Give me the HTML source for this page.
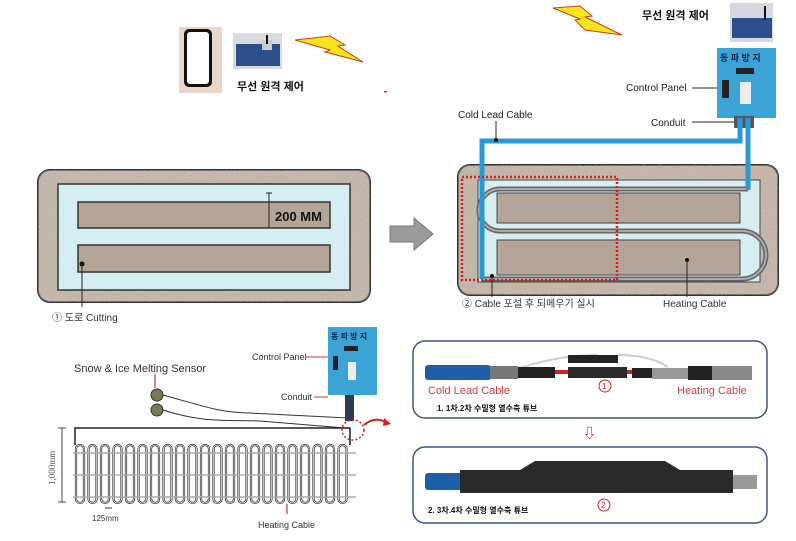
<!DOCTYPE html>
<html><head><meta charset="utf-8"><style>
html,body{margin:0;padding:0;background:#fff;}
svg{display:block;font-family:"Liberation Sans","Noto Sans CJK KR",sans-serif;}
</style></head><body>
<svg width="796" height="541" viewBox="0 0 796 541" xmlns="http://www.w3.org/2000/svg">
<defs>
<filter id="sand" x="0" y="0" width="100%" height="100%">
<feTurbulence type="fractalNoise" baseFrequency="0.9" numOctaves="2" seed="3" result="n"/>
<feColorMatrix in="n" type="matrix" values="0 0 0 0 0.70  0 0 0 0 0.64  0 0 0 0 0.58  0 0 0 -1.2 1.25" result="c"/>
<feComposite in="c" in2="SourceGraphic" operator="in"/>
</filter>
<g id="lp"><rect x="0" y="0" width="8" height="58" rx="4" fill="none" stroke="#333" stroke-width="2.2"/><rect x="0" y="0" width="8" height="58" rx="4" fill="none" stroke="#fff" stroke-width="0.7"/></g>
</defs>

<!-- top-left -->
<rect x="179" y="27" width="43" height="66" fill="#e8d6c8"/>
<rect x="184" y="29" width="28" height="58" rx="5" fill="#111"/>
<rect x="187" y="32" width="22" height="52" rx="3" fill="#fff"/>
<rect x="233" y="33" width="49" height="36" fill="#d8dce2"/>
<rect x="236" y="44" width="44" height="22" fill="#2d4f8c"/>
<rect x="262" y="40" width="10" height="10" fill="#ccc"/>
<line x1="267" y1="35" x2="267" y2="44" stroke="#111" stroke-width="2"/>
<polygon points="295,40 330,36 345,45 338,46 363,62 325,52 330,50" fill="#f5e61a" stroke="#d23a1a" stroke-width="1"/>
<text x="237" y="90" font-size="11" font-weight="bold" fill="#111">무선 원격 제어</text>
<rect x="384" y="91" width="3" height="1.5" fill="#c33"/>

<!-- top-right -->
<polygon points="553,8 580,6 592,16 585,17 622,35 585,30 575,20 580,19" fill="#f5e61a" stroke="#d23a1a" stroke-width="1"/>
<text x="642" y="19" font-size="11" font-weight="bold" fill="#111">무선 원격 제어</text>
<rect x="730" y="3" width="43" height="39" fill="#d5d8de"/>
<rect x="732" y="18" width="40" height="20" fill="#2d4f8c"/>
<line x1="765" y1="6" x2="765" y2="20" stroke="#111" stroke-width="2"/>

<rect x="717" y="48" width="59" height="70" fill="#3ba3d6"/>
<text x="720" y="61" font-size="9" font-weight="bold" fill="#124">동 파 방 지</text>
<rect x="736" y="68" width="18" height="6" fill="#222"/>
<rect x="722" y="80" width="7" height="18" fill="#222"/>
<rect x="740" y="82" width="11" height="22" fill="#eee"/>
<text x="626" y="91" font-size="10" fill="#222">Control Panel</text>
<line x1="692" y1="88" x2="717" y2="88" stroke="#222" stroke-width="1"/>
<text x="651" y="126" font-size="10" fill="#222">Conduit</text>
<line x1="692" y1="122" x2="735" y2="122" stroke="#222" stroke-width="1"/>
<rect x="734" y="116" width="20" height="12" fill="#556"/>
<text x="458" y="118" font-size="10" fill="#222">Cold Lead Cable</text>
<line x1="496" y1="121" x2="496" y2="140" stroke="#222" stroke-width="1"/>

<!-- right slab -->
<rect x="458" y="165" width="320" height="130" rx="12" fill="#b5a596" stroke="#333" stroke-width="2"/>
<rect x="458" y="165" width="320" height="130" rx="12" fill="#fff" filter="url(#sand)" opacity="0.6"/>
<rect x="478" y="180" width="282" height="102" fill="#d6eef0" stroke="#444" stroke-width="1"/>
<rect x="497" y="193" width="243" height="30" fill="#b5a596" stroke="#444" stroke-width="1"/>
<rect x="497" y="240" width="243" height="35" fill="#b5a596" stroke="#444" stroke-width="1"/>
<path d="M482 279 H742 A24 24 0 0 0 742 231 H500 A21 21 0 0 1 500 189 H748" fill="none" stroke="#666" stroke-width="5"/>
<path d="M482 279 H742 A24 24 0 0 0 742 231 H500 A21 21 0 0 1 500 189 H748" fill="none" stroke="#aaa" stroke-width="2"/>
<path d="M740 118 V141 H482 V279" fill="none" stroke="#2a9ad6" stroke-width="5"/>
<path d="M748 118 V190" fill="none" stroke="#2a9ad6" stroke-width="5"/>
<circle cx="496" cy="140" r="2" fill="#111"/>
<rect x="462" y="177" width="155" height="103" fill="none" stroke="#d52020" stroke-width="2.5" stroke-dasharray="2,2"/>
<circle cx="492" cy="276" r="2" fill="#111"/>
<line x1="492" y1="276" x2="492" y2="297" stroke="#222"/>
<circle cx="687" cy="260" r="2" fill="#111"/>
<line x1="687" y1="260" x2="687" y2="297" stroke="#222"/>
<text x="462" y="307" font-size="10" fill="#333">② Cable 포설 후 되메우기 실시</text>
<text x="663" y="307" font-size="10" fill="#333">Heating Cable</text>

<!-- left slab -->
<rect x="38" y="170" width="332" height="132" rx="12" fill="#b5a596" stroke="#333" stroke-width="2"/>
<rect x="38" y="170" width="332" height="132" rx="12" fill="#fff" filter="url(#sand)" opacity="0.6"/>
<rect x="58" y="184" width="292" height="106" fill="#d4eff3" stroke="#333" stroke-width="1.5"/>
<rect x="78" y="202" width="252" height="26" fill="#b5a596" stroke="#333" stroke-width="1.5"/>
<rect x="78" y="245" width="252" height="27" fill="#b5a596" stroke="#333" stroke-width="1.5"/>
<line x1="269" y1="193" x2="269" y2="228" stroke="#222"/>
<line x1="266" y1="193" x2="272" y2="193" stroke="#222"/>
<text x="275" y="221" font-size="13" font-weight="bold" fill="#111">200 MM</text>
<circle cx="82" cy="264" r="2.5" fill="#111"/>
<line x1="82" y1="264" x2="82" y2="307" stroke="#222"/>
<text x="52" y="321" font-size="10" fill="#333">① 도로 Cutting</text>

<polygon points="390,226 414,226 414,218 433,234 414,250 414,242 390,242" fill="#9a9a9a" stroke="#777"/>

<!-- bottom-left -->
<text x="74" y="372" font-size="11" fill="#333">Snow &amp; Ice Melting Sensor</text>
<line x1="155" y1="374" x2="155" y2="388" stroke="#c33" stroke-width="1.2"/>
<circle cx="157" cy="395" r="6" fill="#7a7a50" stroke="#333"/>
<circle cx="157" cy="410" r="6" fill="#7a7a50" stroke="#333"/>
<path d="M163 395 C200 405 220 413 250 413 L348 418" fill="none" stroke="#333"/>
<path d="M163 410 C200 422 220 420 260 421 L345 428" fill="none" stroke="#333"/>
<rect x="328" y="327" width="49" height="68" fill="#3ba3d6"/>
<text x="331" y="339" font-size="8" font-weight="bold" fill="#124">동 파 방 지</text>
<rect x="344" y="346" width="14" height="5" fill="#222"/>
<rect x="333" y="356" width="5" height="14" fill="#222"/>
<rect x="348" y="362" width="8" height="18" fill="#eee"/>
<text x="252" y="360" font-size="9" fill="#333">Control Panel</text>
<line x1="306" y1="357" x2="328" y2="357" stroke="#c33"/>
<text x="281" y="400" font-size="9" fill="#333">Conduit</text>
<line x1="314" y1="397" x2="328" y2="397" stroke="#c33"/>
<rect x="345" y="395" width="9" height="26" fill="#2b3d50"/>
<path d="M75 445 V428 H350 V445" fill="none" stroke="#222" stroke-width="1.5"/>
<ellipse cx="353" cy="430" rx="11" ry="10" fill="none" stroke="#d52020" stroke-width="1.5" stroke-dasharray="2,2"/>
<path d="M364 425 Q375 416 385 422" fill="none" stroke="#d52020" stroke-width="2"/>
<polygon points="384,418 391,424 383,426" fill="#d52020"/>
<g transform="translate(0,445)">
<use href="#lp" x="76"/><use href="#lp" x="88.5"/><use href="#lp" x="101"/><use href="#lp" x="113.5"/><use href="#lp" x="126"/><use href="#lp" x="138.5"/><use href="#lp" x="151"/><use href="#lp" x="163.5"/><use href="#lp" x="176"/><use href="#lp" x="188.5"/><use href="#lp" x="201"/><use href="#lp" x="213.5"/><use href="#lp" x="226"/><use href="#lp" x="238.5"/><use href="#lp" x="251"/><use href="#lp" x="263.5"/><use href="#lp" x="276"/><use href="#lp" x="288.5"/><use href="#lp" x="301"/><use href="#lp" x="313.5"/><use href="#lp" x="326"/><use href="#lp" x="338.5"/>
</g>
<line x1="73" y1="453" x2="356" y2="453" stroke="#aaa" stroke-width="1.5"/>
<line x1="73" y1="475" x2="356" y2="475" stroke="#aaa" stroke-width="1.5"/>
<line x1="73" y1="497" x2="356" y2="497" stroke="#aaa" stroke-width="1.5"/>
<line x1="62" y1="428" x2="62" y2="502" stroke="#444"/>
<line x1="58" y1="428" x2="66" y2="428" stroke="#444"/>
<line x1="58" y1="502" x2="66" y2="502" stroke="#444"/>
<text x="0" y="0" font-size="9" fill="#555" font-family="Liberation Serif,serif" transform="translate(55,485) rotate(-90)">1,000mm</text>
<line x1="105" y1="508" x2="112" y2="508" stroke="#333"/>
<text x="92" y="521" font-size="8" fill="#333">125mm</text>
<line x1="287" y1="504" x2="287" y2="514" stroke="#c33" stroke-width="1.2"/>
<text x="258" y="528" font-size="9" fill="#333">Heating Cable</text>

<!-- bottom-right panels -->
<rect x="413" y="341" width="354" height="77" rx="12" fill="#fff" stroke="#3a5a80" stroke-width="1.5"/>
<rect x="413" y="447" width="354" height="76" rx="12" fill="#fff" stroke="#3a5a80" stroke-width="1.5"/>
<path d="M520 368 Q560 355 598 355 M618 355 Q650 355 668 367" fill="none" stroke="#ccc" stroke-width="2"/>
<rect x="425" y="365" width="66" height="15" rx="3" fill="#1e5fa8"/>
<rect x="490" y="366" width="28" height="13" fill="#777"/>
<rect x="518" y="367" width="37" height="11" fill="#222"/>
<rect x="555" y="370" width="13" height="4" fill="#c22"/>
<rect x="568" y="367" width="59" height="11" fill="#2a2a2a"/>
<rect x="568" y="355" width="50" height="8" fill="#222"/>
<rect x="627" y="370" width="5" height="4" fill="#c22"/>
<rect x="632" y="368" width="20" height="10" fill="#222"/>
<rect x="652" y="368" width="38" height="11" fill="#999"/>
<rect x="688" y="366" width="24" height="14" fill="#222"/>
<rect x="712" y="366" width="40" height="14" fill="#888"/>
<circle cx="605" cy="386" r="6" fill="none" stroke="#c22"/>
<text x="602" y="389" font-size="8" fill="#c22">1</text>
<text x="428" y="394" font-size="11" fill="#d04040">Cold Lead Cable</text>
<text x="677" y="394" font-size="11" fill="#d04040">Heating Cable</text>
<text x="437" y="411" font-size="8" font-weight="bold" fill="#111">1. 1차.2차 수밀형 열수축 튜브</text>
<text x="583" y="438" font-size="13" font-weight="bold" fill="#d52020">⇩</text>
<rect x="425" y="473" width="40" height="17" rx="3" fill="#1e5fa8"/>
<rect x="730" y="475" width="27" height="14" fill="#999"/>
<path d="M460 470 H520 L535 461 H665 L680 470 H733 V493 H460 Z" fill="#2a2a2a"/>
<circle cx="604" cy="505" r="6" fill="none" stroke="#c22"/>
<text x="601" y="508" font-size="8" fill="#c22">2</text>
<text x="428" y="513" font-size="8" font-weight="bold" fill="#111">2. 3차.4차 수밀형 열수축 튜브</text>
</svg>
</body></html>
